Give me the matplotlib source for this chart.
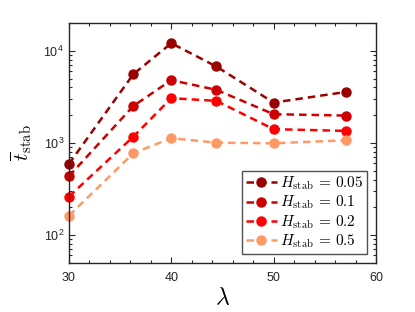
import numpy as np
import matplotlib
matplotlib.use('Agg')
import matplotlib.pyplot as plt
from matplotlib.ticker import LogLocator, MultipleLocator, NullFormatter

lam = [30, 36.3, 40, 44.4, 50, 57.1]
t_005 = [590, 5580, 12100, 6760, 2740, 3580]
t_01 = [434, 2520, 4800, 3770, 2050, 1980]
t_02 = [261, 1170, 3060, 2860, 1410, 1350]
t_05 = [162, 773, 1125, 1006, 990, 1069]
labels = [r'$H_{\rm stab}\,=\,0.05$', r'$H_{\rm stab}\,=\,0.1$',
          r'$H_{\rm stab}\,=\,0.2$', r'$H_{\rm stab}\,=\,0.5$']
colors = ['#990000', '#cc0000', '#ff0000', '#ff9966']

plt.rcParams['font.family'] = ['Liberation Sans', 'DejaVu Sans']
plt.rcParams['mathtext.fontset'] = 'cm'

fig = plt.figure(figsize=(4.15, 3.12), dpi=100)
ax = fig.add_axes([0.166, 0.158, 0.74, 0.768])

for ys, c, lab in zip([t_005, t_01, t_02, t_05], colors, labels):
    ax.plot(lam, ys, '--o', color=c, lw=1.8, ms=6.5, dashes=(3, 2), label=lab, clip_on=False)

ax.set_yscale('log')
ax.set_xlim(30, 60)
ax.set_ylim(50, 2e4)
ax.xaxis.set_major_locator(MultipleLocator(10))
ax.xaxis.set_minor_locator(MultipleLocator(2))
ax.yaxis.set_major_locator(LogLocator(base=10, numticks=10))
ax.yaxis.set_minor_locator(LogLocator(base=10, subs=np.arange(2, 10), numticks=10))
ax.yaxis.set_minor_formatter(NullFormatter())
ax.tick_params(which='both', direction='in', top=True, right=True, colors='#262626',
               labelsize=9, width=0.8)
ax.tick_params(which='major', length=4)
ax.tick_params(axis='x', which='major', pad=7)
ax.tick_params(which='minor', length=2)
for s in ax.spines.values():
    s.set_color('#262626')
    s.set_linewidth(1.0)

ax.set_xlabel(r'$\lambda$', fontsize=17, labelpad=2)
ax.set_ylabel(r'$\overline{t}_{\rm stab}$', fontsize=15, labelpad=7)

leg = ax.legend(loc='lower right', fontsize=11, frameon=True, fancybox=False,
                edgecolor='#262626', handlelength=2.0, handletextpad=0.2,
                borderpad=0.25, labelspacing=0.1, borderaxespad=0.6)
leg.get_frame().set_linewidth(1.0)

fig.savefig('out.png', dpi=100)
